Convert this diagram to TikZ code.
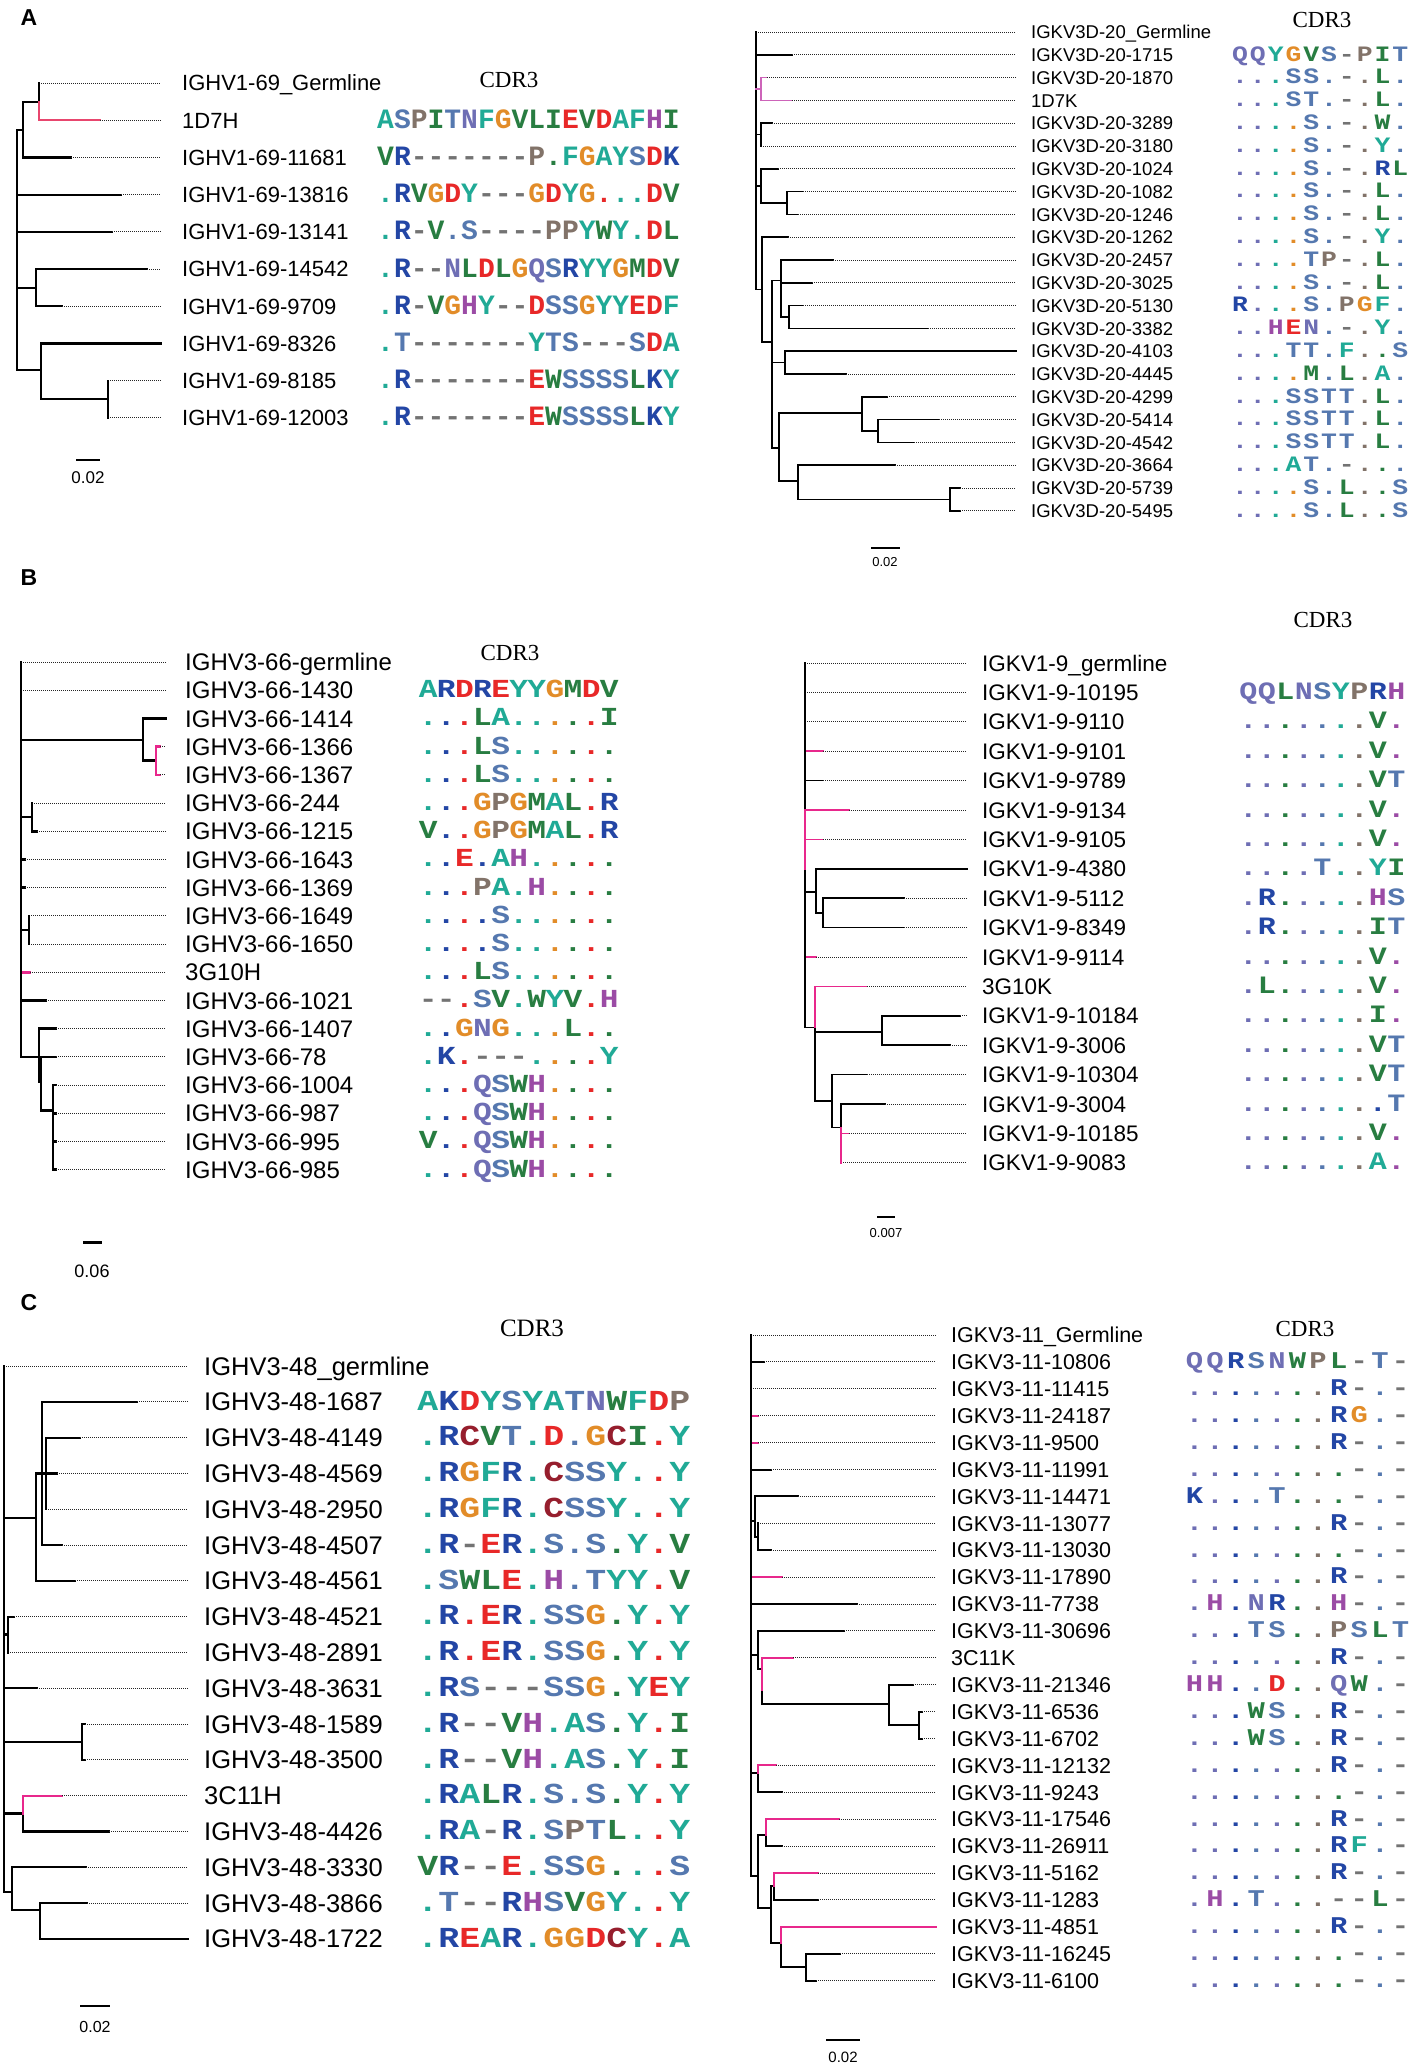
\documentclass[tikz,border=0pt]{standalone}
\usepackage{fontspec}
\usepackage{tikz}

\newfontfamily\lblfont{Liberation Sans}
\newfontfamily\hdfont{Liberation Serif}
\newfontfamily\seqfont{Liberation Mono}
\newfontfamily\seqwide[FakeStretch=1.2]{Liberation Mono}

% residue colours
\definecolor{cTeal}{RGB}{32,170,150}
\definecolor{cBlue}{RGB}{35,70,165}
\definecolor{cRed}{RGB}{232,40,40}
\definecolor{cOrange}{RGB}{226,140,40}
\definecolor{cGray}{RGB}{130,115,105}
\definecolor{cSteel}{RGB}{85,120,175}
\definecolor{cSlate}{RGB}{110,110,180}
\definecolor{cPurple}{RGB}{155,75,165}
\definecolor{cGreen}{RGB}{40,125,65}
\definecolor{cDark}{RGB}{150,30,45}
\definecolor{cGap}{RGB}{115,115,115}
% branch colours
\definecolor{pinkAL}{RGB}{232,70,110}
\definecolor{pinkAR}{RGB}{205,100,185}
\definecolor{pinkHot}{RGB}{232,40,140}

\def\setres#1#2{\expandafter\def\csname aacol#1\endcsname{#2}}
\setres{A}{cTeal}\setres{Y}{cTeal}\setres{F}{cTeal}
\setres{R}{cBlue}\setres{K}{cBlue}
\setres{D}{cRed}\setres{E}{cRed}
\setres{G}{cOrange}\setres{P}{cGray}
\setres{S}{cSteel}\setres{T}{cSteel}
\setres{N}{cSlate}\setres{Q}{cSlate}
\setres{H}{cPurple}\setres{C}{cDark}
\setres{V}{cGreen}\setres{I}{cGreen}\setres{L}{cGreen}\setres{M}{cGreen}\setres{W}{cGreen}
\setres{-}{cGap}\setres{.}{cGap}

% one letter of a CDR3 row; a dot takes the colour of the reference letter
\newcommand\cdrchar[2]{\makebox[\cw]{\if.#2\edef\cdrc{\csname aacol#1\endcsname}\else\edef\cdrc{\csname aacol#2\endcsname}\fi\color{\cdrc}#2}}
\def\cdrstep#1#2\cdrend#3#4\cdrend{%
  \ifx\relax#3\let\cdrnext\relax
  \else\cdrchar{#1}{#3}\def\cdrnext{\cdrstep#2\cdrend#4\cdrend}\fi
  \cdrnext}
\newcommand\cdr[2]{\edef\cdrtmp{\noexpand\cdrstep#1------\relax\noexpand\cdrend#2\relax\noexpand\cdrend}\cdrtmp}

% rows of CDR3 text, from row 1 on
\newcount\seqi
\def\seqendm{\seqend}
\def\seqloop#1,{\def\seqtmp{#1}%
  \ifx\seqtmp\seqendm\let\seqnext\relax
  \else\def\seqnext{\seqrow{#1}\seqloop}\fi
  \seqnext}
\def\seqrow#1{\node[seqrow] (\seqpre\the\seqi) at (\seqx,\the\seqi) {\cdr{\seqref}{#1}};\global\advance\seqi by 1\relax}
\newcommand\seqrows[1]{\global\seqi=1\relax\seqloop#1,\seqend,}

\tikzset{
  leafbase/.style={anchor=west, inner ysep=0pt, text depth=0pt},
  seqbase/.style={anchor=west, inner sep=0pt, text depth=0pt},
  tip/.style={densely dotted, line width=1pt, black!85},
  panel/.style={font=\lblfont\bfseries\fontsize{23}{23}\selectfont},
  cdrhead/.style={font=\hdfont\fontsize{23}{23}\selectfont},
  scalebar/.style={line width=2pt},
  scalelbl/.style={font=\lblfont\fontsize{14}{14}\selectfont}
}

\begin{document}
\begin{tikzpicture}[x=1pt, y=-1pt]
\fill[white] (0,0) rectangle (1417,2065);
\useasboundingbox (0,0) rectangle (1417,2065);

% panel letters and headers
\node[panel] (pA) at (29,18) {A};
\node[panel] (pB) at (29,578) {B};
\node[panel] (pC) at (29,1303) {C};
\node[cdrhead] (hAL) at (509,80) {CDR3};
\node[cdrhead] (hAR) at (1322,20) {CDR3};
\node[cdrhead] (hBL) at (510,653) {CDR3};
\node[cdrhead] (hBR) at (1323,620) {CDR3};
\node[cdrhead, font=\hdfont\fontsize{25}{25}\selectfont] (hCL) at (532,1328) {CDR3};
\node[cdrhead] (hCR) at (1305,1329) {CDR3};

%%% A left
\begin{scope}[shift={(0,83)}, y=-37.2pt,
  br/.style={line width=2.2pt, line cap=rect},
  leaf/.style={leafbase, inner xsep=21pt, text height=15.7pt, font=\lblfont\fontsize{22}{22}\selectfont},
  seqrow/.style={seqbase, text height=16pt, font=\seqfont\bfseries\fontsize{28}{28}\selectfont}]
  \def\cw{16.8pt}\def\seqx{377}\def\seqpre{sqal}\def\seqref{ASPITNFGVLIEVDAFHI}
  \foreach \lbl [count=\i from 0] in {IGHV1-69\_Germline, 1D7H, IGHV1-69-11681, IGHV1-69-13816,
      IGHV1-69-13141, IGHV1-69-14542, IGHV1-69-9709, IGHV1-69-8326, IGHV1-69-8185, IGHV1-69-12003}
    \node[leaf] (al\i) at (161,\i) {\lbl};
  \seqrows{ASPITNFGVLIEVDAFHI,VR-------P.FGAYSDK,.RVGDY---GDYG...DV,.R-V.S----PPYWY.DL,
    .R--NLDLGQSRYYGMDV,.R-VGHY--DSSGYYEDF,.T-------YTS---SDA,.R-------EWSSSSLKY,.R-------EWSSSSLKY}
  % leaves
  \foreach \i/\a/\b/\c in {0/39/39/black, 1/39/100/pinkAL, 2/23/71/black, 3/17/121/black,
      4/17/112/black, 5/36/147/black, 6/36/62/black, 7/41/161/black, 8/108/108/black, 9/108/108/black}
    {\draw[br, color=\c] (\a,\i) -- (\b,\i); \draw[tip] (\b,\i) -- (al\i.west);}
  % inner branches
  \draw[br] (17,1.26) -- (17,7.72) (17,1.26) -- (23,1.26) (23,0.5) -- (23,2)
    (23,0.5) -- (39,0.5) (39,0) -- (39,0.5)
    (17,5.5) -- (36,5.5) (36,5) -- (36,6)
    (17,7.72) -- (41,7.72) (41,7) -- (41,8.5)
    (41,8.5) -- (108,8.5) (108,8) -- (108,9);
  \draw[br, pinkAL] (39,0.5) -- (39,1);
\end{scope}
\draw[scalebar] (76,460) -- (100,460);
\node[scalelbl, font=\lblfont\fontsize{17}{17}\selectfont] (sAL) at (88,478) {0.02};

%%% A right
\begin{scope}[shift={(0,32)}, y=-22.8pt,
  br/.style={line width=1.6pt, line cap=rect},
  leaf/.style={leafbase, inner xsep=15pt, text height=13.2pt, font=\lblfont\fontsize{18.5}{18.5}\selectfont},
  seqrow/.style={seqbase, text height=12.6pt, font=\seqwide\bfseries\fontsize{22}{22}\selectfont}]
  \def\cw{17.8pt}\def\seqx{1231}\def\seqpre{sqar}\def\seqref{QQYGVS-PIT}
  \foreach \lbl [count=\i from 0] in {IGKV3D-20\_Germline, IGKV3D-20-1715, IGKV3D-20-1870, 1D7K,
      IGKV3D-20-3289, IGKV3D-20-3180, IGKV3D-20-1024, IGKV3D-20-1082, IGKV3D-20-1246, IGKV3D-20-1262,
      IGKV3D-20-2457, IGKV3D-20-3025, IGKV3D-20-5130, IGKV3D-20-3382, IGKV3D-20-4103, IGKV3D-20-4445,
      IGKV3D-20-4299, IGKV3D-20-5414, IGKV3D-20-4542, IGKV3D-20-3664, IGKV3D-20-5739, IGKV3D-20-5495}
    \node[leaf] (ar\i) at (1016,\i) {\lbl};
  \seqrows{QQYGVS-PIT,...SS.-.L.,...ST.-.L.,....S.-.W.,....S.-.Y.,....S.-.RL,....S.-.L.,
    ....S.-.L.,....S.-.Y.,....TP-.L.,....S.-.L.,R...S.PGF.,..HEN.-.Y.,...TT.F..S,....M.L.A.,
    ...SSTT.L.,...SSTT.L.,...SSTT.L.,...AT.-...,....S.L..S,....S.L..S}
  \foreach \i/\a/\b/\c in {0/756/756/black, 1/756/792/black, 2/761/767/pinkAR, 3/761/792/pinkAR,
      4/761/772/black, 5/761/761/black, 6/761/778/black, 7/787/803/black, 8/787/798/black,
      9/762/788/black, 10/781/833/black, 11/781/812/black, 12/789/803/black, 13/789/928/black,
      14/785/1016/black, 15/785/846/black, 16/862/887/black, 17/878/939/black, 18/878/914/black,
      19/798/895/black, 20/950/960/black, 21/950/960/black}
    {\draw[br, color=\c] (\a,\i) -- (\b,\i); \draw[tip] (\b,\i) -- (ar\i.west);}
  \draw[br] (756,0) -- (756,11.3)
    (756,4.5) -- (761,4.5) (761,4) -- (761,5)
    (756,6.75) -- (761,6.75) (761,6) -- (761,7.5) (761,7.5) -- (787,7.5) (787,7) -- (787,8)
    (756,11.3) -- (762,11.3) (762,9) -- (762,13.6)
    (762,13.6) -- (772,13.6) (772,10.9) -- (772,18.25)
    (772,10.9) -- (781,10.9) (781,10) -- (781,12.5) (781,12.5) -- (789,12.5) (789,12) -- (789,13)
    (772,14.5) -- (785,14.5) (785,14) -- (785,15)
    (772,18.25) -- (779,18.25) (779,16.7) -- (779,19.7)
    (779,16.7) -- (862,16.7) (862,16) -- (862,17.5) (862,17.5) -- (878,17.5) (878,17) -- (878,18)
    (779,19.7) -- (798,19.7) (798,19) -- (798,20.5) (798,20.5) -- (950,20.5) (950,20) -- (950,21);
  \draw[br, pinkAR] (756,2.5) -- (761,2.5) (761,2) -- (761,3);
\end{scope}
\draw[scalebar] (871,548) -- (900,548);
\node[scalelbl, font=\lblfont\fontsize{13}{13}\selectfont] (sAR) at (885,562) {0.02};

%%% B left
\begin{scope}[shift={(0,662)}, y=-28.2pt,
  br/.style={line width=2.6pt, line cap=rect},
  leaf/.style={leafbase, inner xsep=19pt, text height=17.2pt, font=\lblfont\fontsize{24}{24}\selectfont},
  seqrow/.style={seqbase, text height=14.8pt, font=\seqwide\bfseries\fontsize{26}{26}\selectfont}]
  \def\cw{18.1pt}\def\seqx{419}\def\seqpre{sqbl}\def\seqref{ARDREYYGMDV}
  \foreach \lbl [count=\i from 0] in {IGHV3-66-germline, IGHV3-66-1430, IGHV3-66-1414, IGHV3-66-1366,
      IGHV3-66-1367, IGHV3-66-244, IGHV3-66-1215, IGHV3-66-1643, IGHV3-66-1369, IGHV3-66-1649,
      IGHV3-66-1650, 3G10H, IGHV3-66-1021, IGHV3-66-1407, IGHV3-66-78, IGHV3-66-1004,
      IGHV3-66-987, IGHV3-66-995, IGHV3-66-985}
    \node[leaf] (bl\i) at (166,\i) {\lbl};
  \seqrows{ARDREYYGMDV,...LA.....I,...LS......,...LS......,...GPGMAL.R,V..GPGMAL.R,..E.AH.....,
    ...PA.H....,....S......,....S......,...LS......,--.SV.WYV.H,..GNG...L..,.K.---....Y,
    ...QSWH....,...QSWH....,V..QSWH....,...QSWH....}
  \foreach \i/\a/\b/\c in {0/21/21/black, 1/21/21/black, 2/143/166/black, 3/156/160/pinkHot,
      4/156/160/pinkHot, 5/32/32/black, 6/32/37/black, 7/21/25/black, 8/21/25/black, 9/29/29/black,
      10/29/29/black, 11/21/30/pinkHot, 12/21/46/black, 13/39/56/black, 14/41/56/black,
      15/53/56/black, 16/53/56/black, 17/53/56/black, 18/53/56/black}
    {\draw[br, color=\c] (\a,\i) -- (\b,\i); \draw[tip] (\b,\i) -- (bl\i.west);}
  \draw[br] (21,0) -- (21,14)
    (21,2.77) -- (143,2.77) (143,2) -- (143,3.5) (143,3.5) -- (156,3.5)
    (21,5.5) -- (32,5.5) (32,5) -- (32,6)
    (21,9.5) -- (29,9.5) (29,9) -- (29,10)
    (21,14) -- (39,14) (39,13) -- (39,14.9) (39,14.9) -- (41,14.9) (41,14) -- (41,15.9)
    (41,15.9) -- (53,15.9) (53,15) -- (53,18);
  \draw[br, pinkHot] (156,3) -- (156,4);
\end{scope}
\draw[scalebar, line width=3pt] (83,1242) -- (102,1242);
\node[scalelbl, font=\lblfont\fontsize{18}{18}\selectfont] (sBL) at (92,1271) {0.06};

%%% B right
\begin{scope}[shift={(0,663)}, y=-29.4pt,
  br/.style={line width=1.7pt, line cap=rect},
  leaf/.style={leafbase, inner xsep=15pt, text height=16.1pt, font=\lblfont\fontsize{22.5}{22.5}\selectfont},
  seqrow/.style={seqbase, text height=14.3pt, font=\seqwide\bfseries\fontsize{25}{25}\selectfont}]
  \def\cw{18.5pt}\def\seqx{1239}\def\seqpre{sqbr}\def\seqref{QQLNSYPRH}
  \foreach \lbl [count=\i from 0] in {IGKV1-9\_germline, IGKV1-9-10195, IGKV1-9-9110, IGKV1-9-9101,
      IGKV1-9-9789, IGKV1-9-9134, IGKV1-9-9105, IGKV1-9-4380, IGKV1-9-5112, IGKV1-9-8349,
      IGKV1-9-9114, 3G10K, IGKV1-9-10184, IGKV1-9-3006, IGKV1-9-10304, IGKV1-9-3004,
      IGKV1-9-10185, IGKV1-9-9083}
    \node[leaf] (br\i) at (967,\i) {\lbl};
  \seqrows{QQLNSYPRH,.......V.,.......V.,.......VT,.......V.,.......V.,....T..YI,.R.....HS,
    .R.....IT,.......V.,.L.....V.,.......I.,.......VT,.......VT,........T,.......V.,.......A.}
  \foreach \i/\a/\b/\c in {0/805/805/black, 1/805/805/black, 2/805/805/black, 3/805/823/pinkHot,
      4/805/823/black, 5/805/849/pinkHot, 6/805/823/pinkHot, 7/816/967/black, 8/823/904/black,
      9/823/904/black, 10/805/816/pinkHot, 11/815/867/pinkHot, 12/882/960/black, 13/882/950/black,
      14/832/867/black, 15/841/885/black, 16/841/849/pinkHot, 17/841/841/black}
    {\draw[br, color=\c] (\a,\i) -- (\b,\i); \draw[tip] (\b,\i) -- (br\i.west);}
  \draw[br] (805,0) -- (805,5) (805,7) -- (805,12.4)
    (805,7.8) -- (816,7.8) (816,7) -- (816,8.5) (816,8.5) -- (823,8.5) (823,8) -- (823,9)
    (805,12.4) -- (815,12.4) (815,12.4) -- (815,14.9)
    (815,12.55) -- (882,12.55) (882,12) -- (882,13)
    (815,14.9) -- (832,14.9) (832,14) -- (832,15.8)
    (832,15.8) -- (841,15.8) (841,15) -- (841,15.8);
  \draw[br, pinkHot] (805,5) -- (805,7) (815,11) -- (815,12.4) (841,15.8) -- (841,17);
\end{scope}
\draw[scalebar] (877,1217) -- (895,1217);
\node[scalelbl, font=\lblfont\fontsize{13}{13}\selectfont] (sBR) at (886,1233) {0.007};

%%% C left
\begin{scope}[shift={(0,1366)}, y=-35.8pt,
  br/.style={line width=2.2pt, line cap=rect},
  leaf/.style={leafbase, inner xsep=16pt, text height=18.3pt, font=\lblfont\fontsize{25.5}{25.5}\selectfont},
  seqrow/.style={seqbase, text height=16.6pt, font=\seqwide\bfseries\fontsize{29}{29}\selectfont}]
  \def\cw{21pt}\def\seqx{417}\def\seqpre{sqcl}\def\seqref{AKDYSYATNWFDP}
  \foreach \lbl [count=\i from 0] in {IGHV3-48\_germline, IGHV3-48-1687, IGHV3-48-4149, IGHV3-48-4569,
      IGHV3-48-2950, IGHV3-48-4507, IGHV3-48-4561, IGHV3-48-4521, IGHV3-48-2891, IGHV3-48-3631,
      IGHV3-48-1589, IGHV3-48-3500, 3C11H, IGHV3-48-4426, IGHV3-48-3330, IGHV3-48-3866, IGHV3-48-1722}
    \node[leaf] (cl\i) at (188,\i) {\lbl};
  \seqrows{AKDYSYATNWFDP,.RCVT.D.GCI.Y,.RGFR.CSSY..Y,.RGFR.CSSY..Y,.R-ER.S.S.Y.V,.SWLE.H.TYY.V,
    .R.ER.SSG.Y.Y,.R.ER.SSG.Y.Y,.RS---SSG.YEY,.R--VH.AS.Y.I,.R--VH.AS.Y.I,.RALR.S.S.Y.Y,
    .RA-R.SPTL..Y,VR--E.SSG...S,.T--RHSVGY..Y,.REAR.GGDCY.A}
  \foreach \i/\a/\b/\c in {0/4/4/black, 1/42/137/black, 2/46/80/black, 3/46/57/black, 4/46/46/black,
      5/42/62/black, 6/36/75/black, 7/8/14/black, 8/8/8/black, 9/4/37/black, 10/82/85/black,
      11/82/85/black, 12/23/62/pinkHot, 13/23/109/black, 14/12/86/black, 15/40/87/black,
      16/40/188/black}
    {\draw[br, color=\c] (\a,\i) -- (\b,\i); \draw[tip] (\b,\i) -- (cl\i.west);}
  \draw[br] (4,0) -- (4,14.7)
    (4,4.25) -- (36,4.25) (36,3) -- (36,6)
    (36,3) -- (42,3) (42,1) -- (42,5) (42,3) -- (46,3) (46,2) -- (46,4)
    (4,7.5) -- (8,7.5) (8,7) -- (8,8)
    (4,10.5) -- (82,10.5) (82,10) -- (82,11)
    (4,12.5) -- (23,12.5) (23,12.5) -- (23,13)
    (4,14.7) -- (12,14.7) (12,14) -- (12,15.2) (12,15.2) -- (40,15.2) (40,15) -- (40,16);
  \draw[br, pinkHot] (23,12) -- (23,12.5);
\end{scope}
\draw[scalebar] (80,2006) -- (110,2006);
\node[scalelbl, font=\lblfont\fontsize{16}{16}\selectfont] (sCL) at (95,2027) {0.02};

%%% C right
\begin{scope}[shift={(0,1335)}, y=-26.9pt,
  br/.style={line width=2pt, line cap=rect},
  leaf/.style={leafbase, inner xsep=15pt, text height=15.4pt, font=\lblfont\fontsize{21.5}{21.5}\selectfont},
  seqrow/.style={seqbase, text height=13.7pt, font=\seqwide\bfseries\fontsize{24}{24}\selectfont}]
  \def\cw{20.6pt}\def\seqx{1184}\def\seqpre{sqcr}\def\seqref{QQRSNWPL-T-}
  \foreach \lbl [count=\i from 0] in {IGKV3-11\_Germline, IGKV3-11-10806, IGKV3-11-11415, IGKV3-11-24187,
      IGKV3-11-9500, IGKV3-11-11991, IGKV3-11-14471, IGKV3-11-13077, IGKV3-11-13030, IGKV3-11-17890,
      IGKV3-11-7738, IGKV3-11-30696, 3C11K, IGKV3-11-21346, IGKV3-11-6536, IGKV3-11-6702,
      IGKV3-11-12132, IGKV3-11-9243, IGKV3-11-17546, IGKV3-11-26911, IGKV3-11-5162, IGKV3-11-1283,
      IGKV3-11-4851, IGKV3-11-16245, IGKV3-11-6100}
    \node[leaf] (cr\i) at (936,\i) {\lbl};
  \seqrows{QQRSNWPL-T-,.......R-.-,.......RG.-,.......R-.-,........-.-,K...T...-.-,.......R-.-,
    ........-.-,.......R-.-,.H.NR..H-.-,...TS..PSLT,.......R-.-,HH..D..QW.-,...WS..R-.-,
    ...WS..R-.-,.......R-.-,........-.-,.......R-.-,.......RF.-,.......R-.-,.H.T...--L-,
    .......R-.-,........-.-,........-.-}
  \foreach \i/\a/\b/\c in {0/751/751/black, 1/751/764/black, 2/751/751/black, 3/751/758/pinkHot,
      4/751/758/pinkHot, 5/751/771/black, 6/755/798/black, 7/758/758/black, 8/758/771/black,
      9/751/782/pinkHot, 10/751/857/black, 11/758/844/black, 12/762/793/pinkHot, 13/889/913/black,
      14/919/922/black, 15/919/922/black, 16/758/776/pinkHot, 17/758/782/black, 18/766/839/pinkHot,
      19/766/782/black, 20/774/818/pinkHot, 21/774/818/black, 22/781/936/pinkHot, 23/806/840/black,
      24/806/816/black}
    {\draw[br, color=\c] (\a,\i) -- (\b,\i); \draw[tip] (\b,\i) -- (cr\i.west);}
  \draw[br] (751,0) -- (751,20.1)
    (751,6.9) -- (755,6.9) (755,6) -- (755,7.5) (755,7.5) -- (758,7.5) (758,7) -- (758,8)
    (751,11.9) -- (758,11.9) (758,11) -- (758,12.4) (758,12.4) -- (762,12.4)
    (762,13.2) -- (762,13.7) (762,13.7) -- (889,13.7) (889,13) -- (889,14.5)
    (889,14.5) -- (919,14.5) (919,14) -- (919,15)
    (751,16.3) -- (758,16.3) (758,16.3) -- (758,17)
    (751,20.1) -- (758,20.1) (758,18.6) -- (758,21.3)
    (758,18.6) -- (766,18.6) (766,18.6) -- (766,19)
    (758,21.3) -- (771,21.3) (771,20.5) -- (771,22.6)
    (771,20.5) -- (774,20.5) (774,20.5) -- (774,21)
    (771,22.6) -- (781,22.6) (781,22.6) -- (781,23.5) (781,23.5) -- (806,23.5) (806,23) -- (806,24);
  \draw[br, pinkHot] (762,12) -- (762,13.2) (758,16) -- (758,16.3) (766,18) -- (766,18.6)
    (774,20) -- (774,20.5) (781,22) -- (781,22.6);
\end{scope}
\draw[scalebar] (826,2040) -- (860,2040);
\node[scalelbl, font=\lblfont\fontsize{15}{15}\selectfont] (sCR) at (843,2057) {0.02};

\end{tikzpicture}
\end{document}
